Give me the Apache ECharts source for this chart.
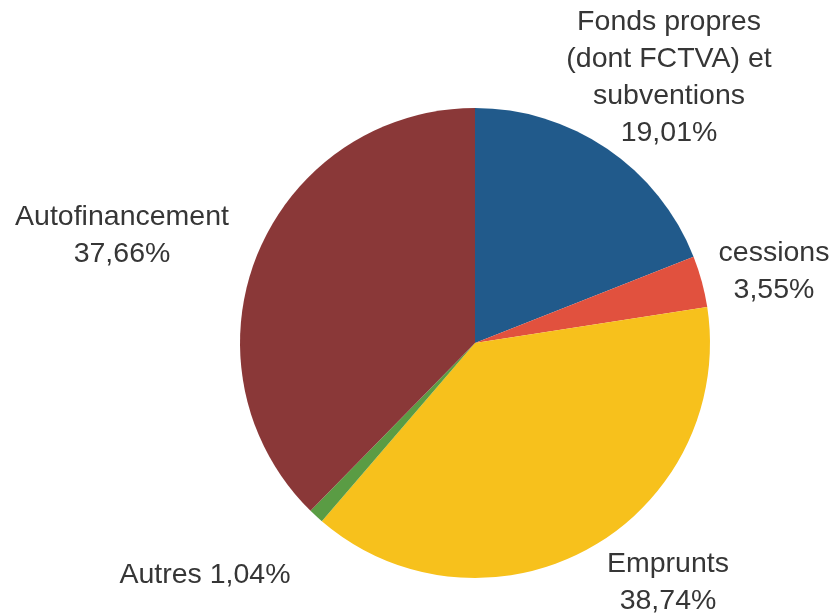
<!DOCTYPE html>
<html>
<head>
<meta charset="utf-8">
<script src="https://cdn.jsdelivr.net/npm/echarts@6/dist/echarts.min.js"></script>
<style>
html,body{margin:0;padding:0;background:#fff;}
#chart{width:829px;height:615px;}
</style>
</head>
<body>
<div id="chart"></div>
<script>
// Data
var categories = ['Fonds propres\n(dont FCTVA) et\nsubventions', 'cessions', 'Emprunts', 'Autres', 'Autofinancement'];
var values = [19.01, 3.55, 38.74, 1.04, 37.66];
var separators = ['\n', '\n', '\n', ' ', '\n'];
var colors = ['#215a8b', '#e1513e', '#f7c11c', '#5a9c44', '#8a3838'];
// Label anchor points (layout only)
var labelPos = [[669, 78], [774, 272], [668, 583], [205, 575], [122, 236]];

var chart = echarts.init(document.getElementById('chart'));
chart.setOption({
  animation: false,
  backgroundColor: '#ffffff',
  series: [{
    type: 'pie',
    center: [475, 343],
    radius: 235,
    startAngle: 90,
    clockwise: true,
    avoidLabelOverlap: false,
    data: categories.map(function (c, i) {
      return { name: c, value: values[i], itemStyle: { color: colors[i] } };
    }),
    itemStyle: { borderWidth: 0 },
    label: {
      show: true,
      formatter: function (p) {
        return p.name + separators[p.dataIndex] + p.value.toFixed(2).replace('.', ',') + '%';
      },
      fontFamily: 'Liberation Sans, Arial, sans-serif',
      fontSize: 28.5,
      lineHeight: 37,
      color: '#363636',
      align: 'center'
    },
    labelLine: { show: false },
    labelLayout: function (params) {
      var p = labelPos[params.dataIndex];
      return { x: p[0], y: p[1], align: 'center', verticalAlign: 'middle' };
    }
  }]
});
</script>
</body>
</html>
